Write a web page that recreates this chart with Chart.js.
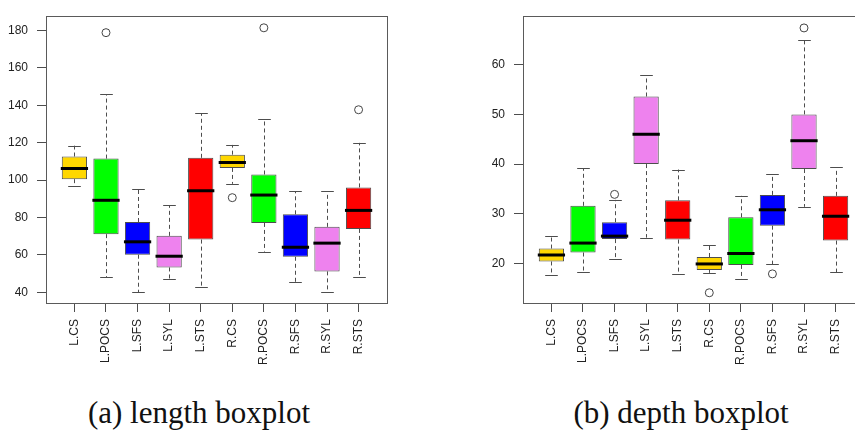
<!DOCTYPE html>
<html>
<head>
<meta charset="utf-8">
<script src="https://cdn.jsdelivr.net/npm/chart.js@4/dist/chart.umd.min.js"></script>
<style>
    html, body { margin: 0; padding: 0; background: #fff; overflow: hidden; width: 855px; height: 432px; }
    canvas { position: absolute; top: 0; }
    #lengthChart { left: 0; }
    #depthChart { left: 477px; }
    .caption {
        position: absolute; top: 395px; font-family: "Liberation Serif", serif;
        font-size: 31px; color: #111; white-space: nowrap; transform: translateX(-50%);
    }
</style>
</head>
<body>
<canvas id="lengthChart" width="430" height="380"></canvas>
<canvas id="depthChart" width="430" height="380"></canvas>
<div class="caption" style="left:199px">(a) length boxplot</div>
<div class="caption" style="left:681px">(b) depth boxplot</div>
<script>
const categories = ["L.CS", "L.POCS", "L.SFS", "L.SYL", "L.STS", "R.CS", "R.POCS", "R.SFS", "R.SYL", "R.STS"];
const boxColors = ["#FFD700", "#00FF00", "#0000FF", "#EE82EE", "#FF0000",
                   "#FFD700", "#00FF00", "#0000FF", "#EE82EE", "#FF0000"];

// length boxplot
const lengthMin = [97, 48.2, 40, 46.9, 43, 98, 61.8, 45.3, 40, 48.2];
const lengthQ1 = [100.5, 71.1, 60.1, 53.3, 68.2, 106.5, 77.1, 59, 51.2, 73.9];
const lengthMedian = [106.2, 89.2, 67, 59.3, 94.3, 109.4, 92, 64.1, 66.3, 83.8];
const lengthQ3 = [112.6, 111.5, 77.6, 70.2, 111.9, 113.6, 103, 81.7, 75, 96.1];
const lengthMax = [118.4, 145.8, 95.4, 86.5, 135.8, 118.8, 132.6, 94.1, 94.1, 119.9];
const lengthOutliers = [[], [178.8], [], [], [], [90.6], [181.4], [], [], [137.6]];
const lengthTicks = [40, 60, 80, 100, 120, 140, 160, 180];

// depth boxplot
const depthMin = [17.6, 18.2, 20.9, 25.2, 17.8, 18.1, 16.8, 19.8, 31.4, 18.2];
const depthQ1 = [20.4, 22.2, 24.9, 40, 24.8, 18.7, 19.7, 27.6, 39, 24.6];
const depthMedian = [21.7, 24.1, 25.5, 46, 28.7, 19.9, 22, 30.8, 44.7, 29.5];
const depthQ3 = [23, 31.6, 28.3, 53.6, 32.7, 21.3, 29.3, 33.8, 50, 33.6];
const depthMax = [25.6, 39.2, 32.8, 57.9, 38.9, 23.7, 33.6, 38, 65, 39.4];
const depthOutliers = [[], [], [33.9], [], [], [14.1], [], [17.9], [67.4], []];
const depthTicks = [20, 30, 40, 50, 60];

const lineColor = "#4d4d4d";

function makeBoxPlot(canvasId, mins, q1, medians, q3, maxs, outliers, yTicks, yMin, yMax) {
    const ctx = document.getElementById(canvasId).getContext("2d");

    const boxData = categories.map((c, i) => ({ x: i + 1, y: [q1[i], q3[i]] }));
    const outlierData = [];
    outliers.forEach((list, i) => {
        list.forEach((v) => outlierData.push({ x: i + 1, y: v }));
    });

    const boxPlugin = {
        id: "boxParts",
        beforeDatasetsDraw(chart) {
            const c = chart.ctx;
            const xs = chart.scales.x;
            const ys = chart.scales.y;
            const bars = chart.getDatasetMeta(0).data;
            c.save();
            c.strokeStyle = lineColor;
            c.lineWidth = 1;
            categories.forEach((cat, i) => {
                const x = Math.round(xs.getPixelForValue(i + 1)) + 0.5;
                const half = bars[i].width / 4;
                c.setLineDash([4, 3]);
                c.beginPath();
                c.moveTo(x, ys.getPixelForValue(q3[i]));
                c.lineTo(x, ys.getPixelForValue(maxs[i]));
                c.moveTo(x, ys.getPixelForValue(q1[i]));
                c.lineTo(x, ys.getPixelForValue(mins[i]));
                c.stroke();
                c.setLineDash([]);
                c.beginPath();
                const yTop = Math.round(ys.getPixelForValue(maxs[i])) + 0.5;
                const yBot = Math.round(ys.getPixelForValue(mins[i])) + 0.5;
                c.moveTo(x - half, yTop);
                c.lineTo(x + half, yTop);
                c.moveTo(x - half, yBot);
                c.lineTo(x + half, yBot);
                c.stroke();
            });
            c.restore();
        },
        afterDatasetsDraw(chart) {
            const c = chart.ctx;
            const xs = chart.scales.x;
            const ys = chart.scales.y;
            const bars = chart.getDatasetMeta(0).data;
            c.save();
            c.strokeStyle = "#000";
            c.lineWidth = 3;
            categories.forEach((cat, i) => {
                const x = xs.getPixelForValue(i + 1);
                const y = ys.getPixelForValue(medians[i]);
                const half = bars[i].width / 2 + 1;
                c.beginPath();
                c.moveTo(x - half, y);
                c.lineTo(x + half, y);
                c.stroke();
            });
            // plot frame
            const a = chart.chartArea;
            c.strokeStyle = "#5a5a5a";
            c.lineWidth = 1;
            c.strokeRect(Math.round(a.left) + 0.5, Math.round(a.top) + 0.5,
                Math.round(a.right - a.left), Math.round(a.bottom - a.top));
            c.restore();
        },
    };

    return new Chart(ctx, {
        type: "bar",
        data: {
            datasets: [
                {
                    data: boxData,
                    backgroundColor: boxColors,
                    borderColor: lineColor,
                    borderWidth: 1,
                    borderSkipped: false,
                    barPercentage: 0.8,
                    categoryPercentage: 1,
                },
                {
                    type: "scatter",
                    data: outlierData,
                    pointStyle: "circle",
                    pointRadius: 4,
                    backgroundColor: "rgba(0,0,0,0)",
                    borderColor: "#444",
                    borderWidth: 1,
                },
            ],
        },
        options: {
            responsive: false,
            animation: false,
            layout: { padding: { top: 15, right: 43, left: 0, bottom: 0 } },
            plugins: { legend: { display: false }, tooltip: { enabled: false } },
            scales: {
                x: {
                    type: "linear",
                    min: 0.1,
                    max: 10.9,
                    offset: false,
                    afterBuildTicks: (scale) => {
                        scale.ticks = categories.map((c, i) => ({ value: i + 1 }));
                    },
                    afterFit: (scale) => { scale.height = 77; },
                    grid: { offset: false, drawOnChartArea: false, drawTicks: true, tickLength: 9, color: lineColor },
                    border: { display: false },
                    ticks: {
                        autoSkip: false,
                        minRotation: 90,
                        maxRotation: 90,
                        padding: 7,
                        color: "#222",
                        font: { family: "Liberation Sans", size: 12 },
                        callback: (value, index) => categories[index],
                    },
                },
                y: {
                    min: yMin,
                    max: yMax,
                    afterBuildTicks: (scale) => {
                        scale.ticks = yTicks.map((v) => ({ value: v }));
                    },
                    afterFit: (scale) => { scale.width = 46; },
                    grid: { drawOnChartArea: false, drawTicks: true, tickLength: 9, color: lineColor },
                    border: { display: false },
                    ticks: {
                        padding: 9,
                        color: "#222",
                        font: { family: "Liberation Sans", size: 12 },
                    },
                },
            },
        },
        plugins: [boxPlugin],
    });
}

makeBoxPlot("lengthChart", lengthMin, lengthQ1, lengthMedian, lengthQ3, lengthMax,
    lengthOutliers, lengthTicks, 34.3, 187.6);
makeBoxPlot("depthChart", depthMin, depthQ1, depthMedian, depthQ3, depthMax,
    depthOutliers, depthTicks, 12.04, 69.76);
</script>
</body>
</html>
